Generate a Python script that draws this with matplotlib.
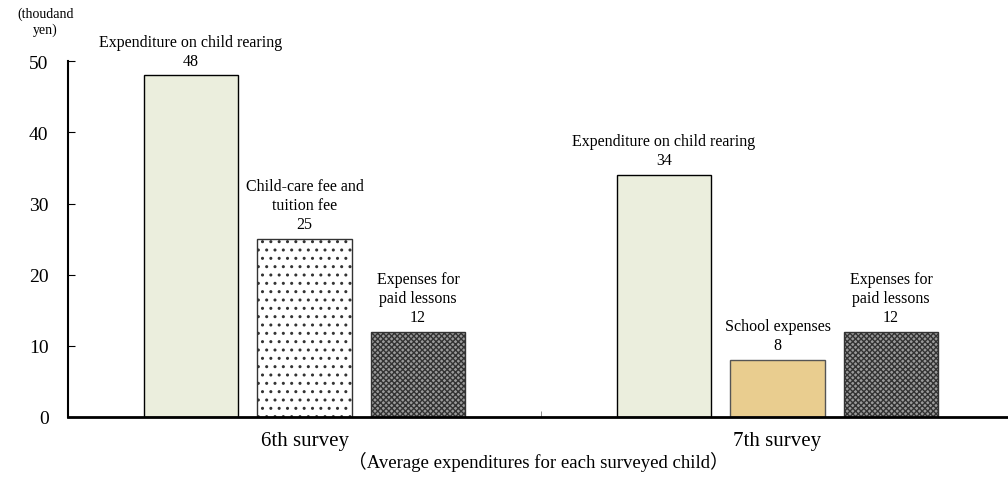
import matplotlib.pyplot as plt
import numpy as np

plt.rcParams['font.family'] = ['Liberation Serif', 'Noto Sans CJK JP']

surveys = ['6th survey', '7th survey']
labels_6th = ['Expenditure on child rearing', 'Child-care fee and\ntuition fee', 'Expenses for\npaid lessons']
values_6th = [48, 25, 12]
labels_7th = ['Expenditure on child rearing', 'School expenses', 'Expenses for\npaid lessons']
values_7th = [34, 8, 12]

fig = plt.figure(figsize=(10.08, 4.89), dpi=100)
ax = fig.add_axes([0.0675, 0.1452, 0.9385, 0.7275])

offsets = [-0.24, 0, 0.24]
width = 0.2
styles_6th = [dict(facecolor='#EBEEDD', edgecolor='black'),
              dict(facecolor='white', edgecolor='#333333', hatch='..'),
              dict(facecolor='#9a9a9a', edgecolor='#333333', hatch='xxxxxx')]
styles_7th = [dict(facecolor='#EBEEDD', edgecolor='black'),
              dict(facecolor='#E9CD8F', edgecolor='#555555'),
              dict(facecolor='#9a9a9a', edgecolor='#333333', hatch='xxxxxx')]

for i, (labels, values, styles) in enumerate([(labels_6th, values_6th, styles_6th),
                                              (labels_7th, values_7th, styles_7th)]):
    for off, lab, val, st in zip(offsets, labels, values, styles):
        ax.bar(i + off, val, width=width, linewidth=1.0, **st)
        # category name and value stacked above each bar
        ax.annotate(lab + '\n' + str(val), (i + off, val), xytext=(0, 5),
                    textcoords='offset points', ha='center', va='bottom',
                    fontsize=11.5, linespacing=1.25)

ax.set_xlim(-0.5, 1.5)
ax.set_ylim(0, 50)
ax.set_yticks(range(0, 51, 10))
ax.tick_params(axis='y', direction='in', labelsize=14, length=5, width=0.8, pad=14)
ax.set_xticks([0.5], minor=True)
ax.set_xticks([0, 1])
ax.set_xticklabels(surveys, fontsize=15)
ax.tick_params(axis='x', which='major', length=0, pad=10)
ax.tick_params(axis='x', which='minor', direction='in', length=4, color='#777777')
ax.spines['top'].set_visible(False)
ax.spines['right'].set_visible(False)
ax.spines['bottom'].set_linewidth(2)
ax.spines['left'].set_linewidth(1.5)

fig.text(0.045, 0.955, '(thoudand\nyen)', ha='center', va='center', fontsize=10, linespacing=1.2)
fig.text(0.534, 0.055, '\uff08Average expenditures for each surveyed child\uff09',
         ha='center', va='center', fontsize=13.5)

fig.savefig('out.png', dpi=100)
